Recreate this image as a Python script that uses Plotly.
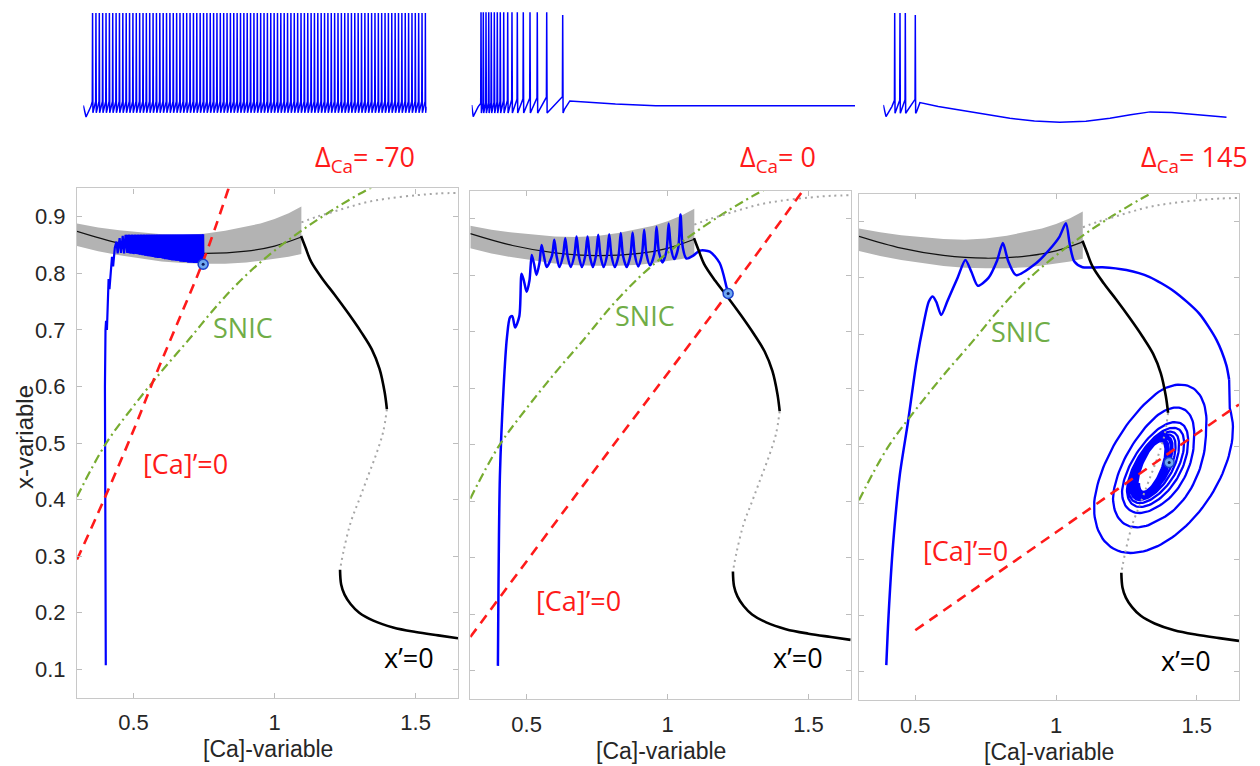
import numpy as np
import plotly.graph_objects as go

W, H = 1260, 766

# ---------------- data ----------------
CA_TICKS = [0.5, 1.0, 1.5]
CA_TICK_TEXT = ["0.5", "1", "1.5"]
XV_TICKS = [0.1, 0.2, 0.3, 0.4, 0.5, 0.6, 0.7, 0.8, 0.9]
XV_TICK_TEXT = ["0.1", "0.2", "0.3", "0.4", "0.5", "0.6", "0.7", "0.8", "0.9"]
DELTA_LABELS = ["-70", "0", "145"]

# limit-cycle envelope (grey band) and its mean (thin black line)
BAND_X = [0.30, 0.375, 0.45, 0.525, 0.60, 0.675, 0.75, 0.825, 0.90, 0.95, 1.00, 1.05, 1.095]
BAND_UP = [0.888, 0.881, 0.876, 0.872, 0.869, 0.868, 0.870, 0.875, 0.882, 0.888, 0.896, 0.906, 0.918]
BAND_LO = [0.848, 0.839, 0.832, 0.826, 0.821, 0.818, 0.817, 0.817, 0.819, 0.822, 0.825, 0.829, 0.834]
CYCLE_X = [0.30, 0.45, 0.60, 0.75, 0.90, 1.00, 1.095]
CYCLE_MEAN = [0.874, 0.853, 0.840, 0.835, 0.839, 0.848, 0.864]

# x'=0 nullcline: stable upper, unstable middle (dotted), stable lower, unstable top (dotted)
XN_UP_X = [1.094, 1.100, 1.110, 1.130, 1.170, 1.213, 1.260, 1.307, 1.345, 1.372, 1.390, 1.398]
XN_UP_Y = [0.866, 0.858, 0.845, 0.820, 0.790, 0.762, 0.730, 0.696, 0.665, 0.631, 0.590, 0.560]
XN_MID_X = [1.398, 1.385, 1.360, 1.330, 1.300, 1.270, 1.245, 1.232]
XN_MID_Y = [0.560, 0.520, 0.480, 0.440, 0.400, 0.360, 0.310, 0.276]
XN_LO_X = [1.232, 1.236, 1.248, 1.270, 1.300, 1.350, 1.420, 1.500, 1.580, 1.650]
XN_LO_Y = [0.276, 0.250, 0.232, 0.215, 0.200, 0.186, 0.174, 0.166, 0.160, 0.155]
XN_TOP_X = [1.095, 1.150, 1.210, 1.270, 1.330, 1.400, 1.505, 1.580, 1.650]
XN_TOP_Y = [0.890, 0.900, 0.909, 0.918, 0.926, 0.932, 0.938, 0.941, 0.942]

# SNIC curve
SNIC_X = [0.30, 0.40, 0.50, 0.60, 0.70, 0.80, 0.90, 1.00, 1.10, 1.20, 1.30, 1.345]
SNIC_Y = [0.405, 0.497, 0.565, 0.627, 0.685, 0.745, 0.797, 0.840, 0.877, 0.910, 0.940, 0.952]

# [Ca]'=0 nullclines for the three Delta_Ca values
CA1_X = [0.30, 0.393, 0.50, 0.572, 0.65, 0.749, 0.837]
CA1_Y = [0.294, 0.397, 0.522, 0.612, 0.705, 0.824, 0.950]
CA2_X = [0.30, 0.724, 1.209, 1.480]
CA2_Y = [0.160, 0.444, 0.765, 0.950]
CA3_X = [0.50, 1.00, 1.62, 1.65]
CA3_Y = [0.174, 0.348, 0.565, 0.575]

# fixed points (blue markers)
FP_X = [0.747, 1.215, 1.402]
FP_Y = [0.816, 0.768, 0.472]

# ---- trajectory, Delta_Ca = -70 ----
P1_EARLY_X = [0.402, 0.400, 0.399, 0.401, 0.403, 0.406, 0.409, 0.412, 0.415, 0.419, 0.424, 0.428,
              0.434, 0.440, 0.444, 0.451, 0.456, 0.462, 0.467]
P1_EARLY_Y = [0.107, 0.400, 0.600, 0.700, 0.716, 0.700, 0.745, 0.790, 0.772, 0.800, 0.829, 0.812,
              0.845, 0.856, 0.835, 0.862, 0.836, 0.866, 0.835]
P1_PEAK_X = [0.472, 0.484, 0.495, 0.506, 0.517, 0.527, 0.537, 0.547, 0.556, 0.565, 0.574, 0.583,
             0.592, 0.600, 0.608, 0.616, 0.624, 0.632, 0.640, 0.648, 0.656, 0.663, 0.670, 0.677,
             0.684, 0.691, 0.698, 0.705, 0.712, 0.719, 0.726, 0.733, 0.740, 0.747]
P1_PEAK_Y = [0.868] * 33 + [0.869]
P1_TROUGH_X = [0.478, 0.490, 0.500, 0.511, 0.522, 0.532, 0.542, 0.551, 0.560, 0.569, 0.578, 0.587,
               0.596, 0.604, 0.612, 0.620, 0.628, 0.636, 0.644, 0.652, 0.659, 0.666, 0.673, 0.680,
               0.687, 0.694, 0.701, 0.708, 0.715, 0.722, 0.729, 0.736, 0.743, 0.748]
P1_TROUGH_Y = [0.836, 0.835, 0.834, 0.834, 0.833, 0.832, 0.831, 0.830, 0.830, 0.829, 0.828, 0.827,
               0.827, 0.826, 0.825, 0.825, 0.824, 0.823, 0.823, 0.822, 0.822, 0.821, 0.821, 0.820,
               0.820, 0.819, 0.819, 0.819, 0.818, 0.818, 0.818, 0.817, 0.817, 0.816]

# ---- trajectory, Delta_Ca = 0 ----
P2_START_X = [0.398, 0.400, 0.405, 0.418, 0.430]
P2_START_Y = [0.109, 0.250, 0.444, 0.600, 0.690]
P2_PEAK_X = [0.441, 0.482, 0.518, 0.553, 0.598, 0.637, 0.677, 0.716, 0.754, 0.793, 0.834, 0.876,
             0.917, 0.961, 1.004, 1.046]
P2_PEAK_Y = [0.726, 0.803, 0.836, 0.854, 0.863, 0.866, 0.869, 0.869, 0.872, 0.873, 0.875, 0.876,
             0.881, 0.886, 0.892, 0.908]
P2_TROUGH_X = [0.459, 0.500, 0.535, 0.571, 0.616, 0.656, 0.696, 0.735, 0.773, 0.813, 0.855, 0.896,
               0.938, 0.982, 1.024, 1.067]
P2_TROUGH_Y = [0.708, 0.771, 0.801, 0.815, 0.815, 0.815, 0.815, 0.815, 0.815, 0.815, 0.815, 0.816,
               0.818, 0.823, 0.829, 0.830]
P2_END_X = [1.091, 1.115, 1.150, 1.185, 1.209, 1.215]
P2_END_Y = [0.835, 0.844, 0.842, 0.822, 0.780, 0.768]

# ---- trajectory, Delta_Ca = 145 ----
P3_X = [0.397, 0.405, 0.421, 0.445, 0.474, 0.504, 0.530, 0.548, 0.562, 0.575, 0.592, 0.615, 0.650,
        0.678, 0.700, 0.722, 0.760, 0.790, 0.811, 0.830, 0.858, 0.929, 0.976, 1.012, 1.035, 1.050,
        1.065, 1.094, 1.165, 1.250, 1.331, 1.420, 1.508, 1.570, 1.605, 1.615]
P3_Y = [0.112, 0.200, 0.326, 0.450, 0.544, 0.650, 0.720, 0.758, 0.767, 0.757, 0.734, 0.760, 0.800,
        0.832, 0.810, 0.786, 0.800, 0.830, 0.862, 0.830, 0.805, 0.826, 0.850, 0.873, 0.897, 0.856,
        0.829, 0.819, 0.819, 0.814, 0.802, 0.776, 0.737, 0.690, 0.645, 0.619]
# spiral around the focus: extents (screen px) measured at successive half turns
SPIRAL_SX_PX = [72, 67, 46, 47, 35, 37, 30, 31, 27, 27.5, 24, 24.5, 21.5, 22, 19.5, 20, 18, 18,
                16.5, 16, 15, 14.5, 13.5, 13]
SPIRAL_SY_PX = [86, 86, 60, 62, 46, 46, 40, 40, 36, 36, 33, 33, 31, 31, 29.5, 29.5, 28, 28,
                27, 27, 26, 26, 25, 25]
SPIRAL_CX_PX = [1161, 1161, 1160, 1160, 1159, 1159, 1158, 1158, 1157, 1156, 1155, 1155, 1154,
                1154, 1153, 1153, 1153, 1152, 1152, 1152, 1152, 1152, 1152, 1152]
SPIRAL_TILT = [0.45, 0.45, 0.50, 0.52, 0.55, 0.58, 0.60, 0.62, 0.64, 0.65, 0.66, 0.67, 0.68, 0.68,
               0.69, 0.69, 0.70, 0.70, 0.70, 0.70, 0.70, 0.70, 0.70, 0.70]
SPIRAL_CY_PX = 467

# ---- voltage traces (top row), time in ms, V in mV ----
T1_SPIKES = [27.0, 36.8, 46.6, 56.4, 66.2, 76.0, 85.7, 95.5, 105.3, 115.1, 124.9, 134.7, 144.5,
             154.3, 164.1, 173.9, 183.6, 193.4, 203.2, 213.0, 222.8, 232.6, 242.4, 252.2, 262.0,
             271.8, 281.5, 291.3, 301.1, 310.9, 320.7, 330.5, 340.3, 350.1, 359.9, 369.7, 379.4,
             389.2, 399.0, 408.8, 418.6, 428.4, 438.2, 448.0, 457.8, 467.6, 477.3, 487.1, 496.9,
             506.7, 516.5, 526.3, 536.1, 545.9, 555.7, 565.5, 575.2, 585.0, 594.8, 604.6, 614.4,
             624.2, 634.0, 643.8, 653.6, 663.4, 673.1, 682.9, 692.7, 702.5, 712.3, 722.1, 731.9,
             741.7, 751.5, 761.3, 771.0, 780.8, 790.6, 800.4, 810.2, 820.0, 829.8, 839.6, 849.4,
             859.2, 868.9, 878.7, 888.5, 898.3, 908.1, 917.9, 927.7, 937.5, 947.3, 957.1, 966.8,
             976.6, 986.4, 996.2]
T1_PEAK, T1_TROUGH, T1_PRE = 30.0, -66.0, -55.0
T1_INIT_T, T1_INIT_V = [0.0, 8.0, 22.0], [-59.0, -70.0, -60.0]
T1_TAIL_T, T1_TAIL_V = [1000.0], [-60.0]

T2_SPIKES = [24.3, 30.3, 37.3, 44.4, 51.1, 59.0, 66.8, 74.6, 83.5, 93.9, 105.1, 119.0, 134.6,
             152.1, 171.1, 195.7, 237.4]
T2_PEAKS = [30.7] * 16 + [28.0]
T2_TROUGH = -66.2
T2_PRE = [-57, -57, -56.5, -56.5, -56, -56, -55.5, -55, -54.5, -54, -53.5, -53, -52.5, -52, -51.5,
          -51, -50.5]
T2_INIT_T, T2_INIT_V = [0.0, 4.0, 17.0], [-58.5, -69.7, -60.0]
T2_TAIL_T = [241.6, 256.0, 300.0, 375.0, 480.0, 1000.0]
T2_TAIL_V = [-63.0, -54.6, -55.8, -57.5, -59.1, -59.2]

T3_SPIKES = [33.2, 48.6, 64.1, 93.2]
T3_PEAKS = [30.0, 30.0, 30.0, 28.0]
T3_TROUGH = -66.4
T3_PRE = [-54.0, -54.0, -53.5, -53.0]
T3_INIT_T, T3_INIT_V = [0.0, 7.9, 25.0], [-58.5, -69.7, -60.0]
T3_TAIL_T = [97.0, 106.6, 160.0, 223.0, 300.0, 368.6, 440.0, 514.0, 590.0, 660.0, 720.0, 777.0,
             840.0, 903.0, 1000.0]
T3_TAIL_V = [-65.0, -56.2, -60.0, -63.3, -67.5, -71.3, -73.8, -75.1, -74.0, -71.3, -67.8, -65.1,
             -65.8, -67.4, -70.3]

# ---------------- layout geometry (pixels) ----------------
PHASE_X_PX = [(77, 458), (470.3, 850.7), (859, 1239)]
PHASE_Y_PX = [(188.4, 697.6), (190.7, 699.2), (193.5, 700.0)]
TRACE_X_PX = [(83.3, 426.7), (471.7, 855.0), (883.3, 1226.7)]
TRACE_Y_PX = (8, 128)

FONT_AX = "Liberation Sans, Arial, sans-serif"
FONT_ANN = "Open Sans, Noto Sans, sans-serif"
BLUE = "#0000ff"
RED = "#ff1a1a"
GREEN_LINE = "#77ac30"
GREEN_TXT = "#70ad47"


def dom_x(a, b):
    return [a / W, b / W]


def dom_y(top, bottom):
    return [1 - bottom / H, 1 - top / H]


def build_voltage(init_t, init_v, spikes, peaks, trough, pre, tail_t, tail_v):
    n = len(spikes)
    peaks = peaks if isinstance(peaks, list) else [peaks] * n
    pre = pre if isinstance(pre, list) else [pre] * n
    tt, vv = list(init_t), list(init_v)
    for k, ts in enumerate(spikes):
        tt += [ts - 0.8, ts, ts + 1.0]
        vv += [pre[k], peaks[k], trough]
    tt += list(tail_t)
    vv += list(tail_v)
    return tt, vv


def interleave(px, py, tx, ty):
    xs, ys = [], []
    for a, b, c, d in zip(px, py, tx, ty):
        xs += [a, c]
        ys += [b, d]
    return xs, ys


def rounded_oscillation(px, py, tx, ty, w=0.008, h=0.02):
    """narrow peaks and rounded troughs: shoulder points beside each trough"""
    xs, ys = [], []
    n = len(px)
    for k in range(n):
        xs.append(px[k]); ys.append(py[k])
        xs.append(px[k] + w); ys.append(ty[k] + h)
        xs.append(tx[k]); ys.append(ty[k])
        if k + 1 < n:
            xs.append(px[k + 1] - w); ys.append(ty[k] + h)
    return xs, ys


fig = go.Figure()

ca_nulls = [(CA1_X, CA1_Y), (CA2_X, CA2_Y), (CA3_X, CA3_Y)]

for i in range(3):
    xa = "x" if i == 0 else f"x{i + 1}"
    ya = "y" if i == 0 else f"y{i + 1}"
    # grey band
    fig.add_trace(go.Scatter(x=BAND_X + BAND_X[::-1], y=BAND_UP + BAND_LO[::-1], fill="toself",
                             fillcolor="#b3b3b3", line=dict(width=0), mode="lines",
                             xaxis=xa, yaxis=ya, hoverinfo="skip", showlegend=False))
    fig.add_trace(go.Scatter(x=CYCLE_X, y=CYCLE_MEAN, mode="lines",
                             line=dict(color="#111111", width=1.2, shape="spline"),
                             xaxis=xa, yaxis=ya, showlegend=False))

    # blue trajectories
    if i == 0:
        zx, zy = interleave(P1_PEAK_X, P1_PEAK_Y, P1_TROUGH_X, P1_TROUGH_Y)
        fig.add_trace(go.Scatter(x=P1_PEAK_X + P1_TROUGH_X[::-1], y=P1_PEAK_Y + P1_TROUGH_Y[::-1],
                                 fill="toself", fillcolor=BLUE, line=dict(width=0), mode="lines",
                                 xaxis=xa, yaxis=ya, showlegend=False))
        fig.add_trace(go.Scatter(x=P1_EARLY_X + zx, y=P1_EARLY_Y + zy, mode="lines",
                                 line=dict(color=BLUE, width=2.2),
                                 xaxis=xa, yaxis=ya, showlegend=False))
    elif i == 1:
        zx, zy = rounded_oscillation(P2_PEAK_X, P2_PEAK_Y, P2_TROUGH_X, P2_TROUGH_Y)
        fig.add_trace(go.Scatter(x=P2_START_X + zx + P2_END_X, y=P2_START_Y + zy + P2_END_Y,
                                 mode="lines",
                                 line=dict(color=BLUE, width=2.5, shape="spline", smoothing=0.8),
                                 xaxis=xa, yaxis=ya, showlegend=False))
    else:
        fig.add_trace(go.Scatter(x=P3_X, y=P3_Y, mode="lines",
                                 line=dict(color=BLUE, width=2.5, shape="spline", smoothing=0.7),
                                 xaxis=xa, yaxis=ya, showlegend=False))
        nh = len(SPIRAL_SX_PX)
        t = np.linspace(0.3, -(nh - 1) * np.pi, 1400)
        grid = np.arange(nh) * np.pi  # half-turn positions in -t
        sx = np.interp(-t, grid, SPIRAL_SX_PX)
        sy = np.interp(-t - np.pi / 2, grid, SPIRAL_SY_PX)
        cx = np.interp(-t, grid, SPIRAL_CX_PX)
        dl = np.interp(-t, grid, SPIRAL_TILT)
        px = cx + sx * np.cos(t)
        py = SPIRAL_CY_PX - sy * np.sin(t + dl)
        x0, x1 = PHASE_X_PX[2]
        y0, y1 = PHASE_Y_PX[2]
        sxd = 0.3 + (px - x0) / (x1 - x0) * 1.35
        syd = 0.95 - (py - y0) / (y1 - y0) * 0.90
        fig.add_trace(go.Scatter(x=[P3_X[-1]] + list(sxd), y=[P3_Y[-1]] + list(syd), mode="lines",
                                 line=dict(color=BLUE, width=2.3),
                                 xaxis=xa, yaxis=ya, showlegend=False))

    # SNIC curve
    fig.add_trace(go.Scatter(x=SNIC_X, y=SNIC_Y, mode="lines",
                             line=dict(color=GREEN_LINE, width=2.2, dash="9px,4px,2px,4px",
                                       shape="spline"),
                             xaxis=xa, yaxis=ya, showlegend=False))
    # x' = 0 nullcline
    for xs, ys in [(XN_UP_X, XN_UP_Y), (XN_LO_X, XN_LO_Y)]:
        fig.add_trace(go.Scatter(x=xs, y=ys, mode="lines",
                                 line=dict(color="#000000", width=2.6, shape="spline"),
                                 xaxis=xa, yaxis=ya, showlegend=False))
    for xs, ys in [(XN_MID_X, XN_MID_Y), (XN_TOP_X, XN_TOP_Y)]:
        fig.add_trace(go.Scatter(x=xs, y=ys, mode="lines",
                                 line=dict(color="#a6a6a6", width=2.0, dash="2px,4px",
                                           shape="spline"),
                                 xaxis=xa, yaxis=ya, showlegend=False))
    # [Ca]' = 0 nullcline
    cxs, cys = ca_nulls[i]
    fig.add_trace(go.Scatter(x=cxs, y=cys, mode="lines",
                             line=dict(color=RED, width=2.6, dash="10px,7px", shape="spline"),
                             xaxis=xa, yaxis=ya, showlegend=False))
    # fixed point
    fig.add_trace(go.Scatter(x=[FP_X[i]], y=[FP_Y[i]], mode="markers",
                             marker=dict(size=10, color="#6fa8f0",
                                         line=dict(color="#1a3fcc", width=1.5)),
                             xaxis=xa, yaxis=ya, showlegend=False))
    fig.add_trace(go.Scatter(x=[FP_X[i]], y=[FP_Y[i]], mode="markers",
                             marker=dict(size=3, color="#0a1a60"),
                             xaxis=xa, yaxis=ya, showlegend=False))

# voltage traces
volts = [
    build_voltage(T1_INIT_T, T1_INIT_V, T1_SPIKES, T1_PEAK, T1_TROUGH, T1_PRE, T1_TAIL_T, T1_TAIL_V),
    build_voltage(T2_INIT_T, T2_INIT_V, T2_SPIKES, T2_PEAKS, T2_TROUGH, T2_PRE, T2_TAIL_T, T2_TAIL_V),
    build_voltage(T3_INIT_T, T3_INIT_V, T3_SPIKES, T3_PEAKS, T3_TROUGH, T3_PRE, T3_TAIL_T, T3_TAIL_V),
]
for i, (tt, vv) in enumerate(volts):
    fig.add_trace(go.Scatter(x=tt, y=vv, mode="lines", line=dict(color=BLUE, width=1.5),
                             xaxis=f"x{i + 4}", yaxis=f"y{i + 4}", showlegend=False))

layout = dict(width=W, height=H, margin=dict(l=0, r=0, t=0, b=0),
              paper_bgcolor="white", plot_bgcolor="white", showlegend=False)

for i in range(3):
    sfx = "" if i == 0 else str(i + 1)
    layout["xaxis" + sfx] = dict(
        domain=dom_x(*PHASE_X_PX[i]), range=[0.3, 1.65], anchor="y" + sfx,
        tickvals=CA_TICKS, ticktext=CA_TICK_TEXT, ticks="inside", ticklen=5, tickcolor="#bdbdbd",
        showline=True, linecolor="#c8c8c8", linewidth=1.2, mirror="ticks", showgrid=False,
        zeroline=False, tickfont=dict(family=FONT_AX, size=22, color="#262626"),
        ticklabelstandoff=5)
    layout["yaxis" + sfx] = dict(
        domain=dom_y(*PHASE_Y_PX[i]), range=[0.05, 0.95], anchor="x" + sfx,
        tickvals=XV_TICKS, ticktext=XV_TICK_TEXT, ticks="inside", ticklen=5, tickcolor="#bdbdbd",
        showline=True, linecolor="#c8c8c8", linewidth=1.2, mirror="ticks", showgrid=False,
        zeroline=False, showticklabels=(i == 0),
        tickfont=dict(family=FONT_AX, size=22, color="#262626"), ticklabelstandoff=6)
    layout[f"xaxis{i + 4}"] = dict(domain=dom_x(*TRACE_X_PX[i]), range=[0, 1000], visible=False,
                                   anchor=f"y{i + 4}")
    layout[f"yaxis{i + 4}"] = dict(domain=dom_y(*TRACE_Y_PX), range=[-80.6, 34.8], visible=False,
                                   anchor=f"x{i + 4}")


def ann(text, xc, yc, size, color, family, xanchor="center", angle=0):
    return dict(text=text, x=xc / W, y=1 - yc / H, xref="paper", yref="paper",
                xanchor=xanchor, yanchor="middle", textangle=angle, showarrow=False,
                font=dict(family=family, size=size, color=color))


anns = [ann("x-variable", 24, 437, 24, "#262626", FONT_AX, angle=-90)]
for (xc, yc) in [(267.5, 749), (660.5, 751), (1049, 752)]:
    anns.append(ann("[Ca]-variable", xc, yc, 23, "#262626", FONT_AX))
for (xr, yc), lab in zip([(417, 158), (818, 158), (1250, 158)], DELTA_LABELS):
    anns.append(ann(f"Δ<sub>Ca</sub>= {lab}", xr, yc, 27, RED, FONT_ANN, xanchor="right"))
for (xc, yc) in [(242.5, 328), (645, 315), (1021, 332)]:
    anns.append(ann("SNIC", xc, yc, 27, GREEN_TXT, FONT_ANN))
for (xc, yc) in [(185, 463), (578, 600), (965, 550)]:
    anns.append(ann("[Ca]’=0", xc, yc, 27, RED, FONT_ANN))
for (xc, yc) in [(409, 657), (798, 657), (1186, 660)]:
    anns.append(ann("x’=0", xc, yc, 27, "#000000", FONT_ANN))
layout["annotations"] = anns

fig.update_layout(**layout)
fig.write_html("out.html")
